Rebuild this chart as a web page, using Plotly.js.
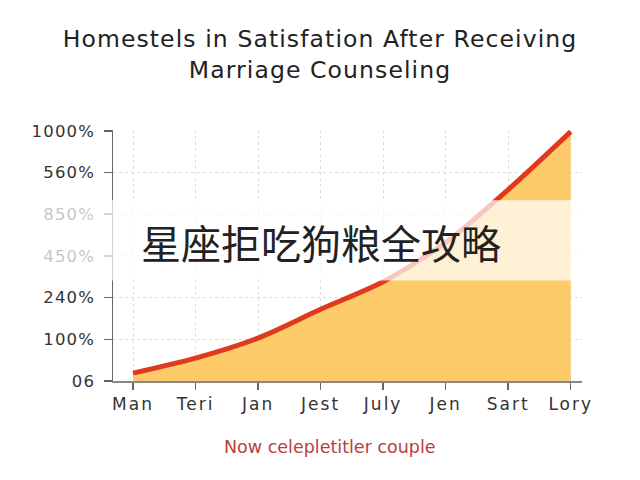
<!DOCTYPE html>
<html>
<head>
<meta charset="utf-8">
<script src="https://cdn.plot.ly/plotly-3.0.1.min.js"></script>
<style>
html,body{margin:0;padding:0;background:#fff;}
#chart{width:640px;height:480px;}
#chart .xtick text{letter-spacing:2px;}
#chart .ytick text{letter-spacing:1.2px;}
#chart .gtitle{letter-spacing:1.1px;}
</style>
</head>
<body>
<div id="chart"></div>
<script>
var categories = ["Man", "Teri", "Jan", "Jest", "July", "Jen", "Sart", "Lory"];
var satisfaction = [0.19, 0.55, 1.03, 1.72, 2.38, 3.32, 4.59, 5.98];
var yTickLabels = ["06", "100%", "240%", "450%", "850%", "560%", "1000%"];
var chartTitle = "Homestels in Satisfation After Receiving<br>Marriage Counseling";
var xTitle = "Now celepletitler couple";
var bannerText = "星座拒吃狗粮全攻略";

var xIdx = categories.map(function (c, i) { return i; });
var yIdx = yTickLabels.map(function (t, i) { return i; });
var FONT = "DejaVu Sans, Verdana, sans-serif";

var trace = {
  x: xIdx,
  y: satisfaction,
  type: "scatter",
  mode: "lines",
  line: { color: "#E0391E", width: 5, shape: "spline", smoothing: 0.8 },
  fill: "tozeroy",
  fillcolor: "#FDCB6A",
  hoverinfo: "skip"
};

var layout = {
  width: 640,
  height: 480,
  margin: { l: 113, r: 58, t: 130, b: 99 },
  paper_bgcolor: "#ffffff",
  plot_bgcolor: "#ffffff",
  showlegend: false,
  font: { family: FONT, color: "#333" },
  title: {
    text: chartTitle,
    x: 0.5,
    xanchor: "center",
    y: 0.902,
    yanchor: "middle",
    font: { size: 23.5, color: "#222", family: FONT }
  },
  xaxis: {
    range: [-0.32, 7.18],
    tickmode: "array",
    tickvals: xIdx,
    ticktext: categories,
    ticks: "outside",
    ticklen: 7,
    tickcolor: "#666",
    tickwidth: 1.5,
    showline: true,
    linecolor: "#888",
    linewidth: 1.5,
    showgrid: true,
    gridcolor: "#dcdcdc",
    griddash: "dot",
    zeroline: false,
    tickfont: { size: 17, color: "#333", family: FONT },
    fixedrange: true
  },
  yaxis: {
    range: [0, 6.02],
    tickmode: "array",
    tickvals: yIdx,
    ticktext: yTickLabels,
    ticks: "outside",
    ticklen: 8,
    ticklabelstandoff: 5,
    tickcolor: "#666",
    tickwidth: 1.5,
    showline: true,
    linecolor: "#666",
    linewidth: 1.5,
    showgrid: true,
    gridcolor: "#dcdcdc",
    griddash: "dot",
    zeroline: false,
    tickfont: { size: 16.5, color: "#333", family: FONT },
    fixedrange: true
  },
  shapes: [
    {
      type: "rect",
      xref: "paper",
      yref: "paper",
      x0: -0.3,
      x1: 1.01,
      y0: 0.4,
      y1: 0.72,
      line: { width: 0 },
      fillcolor: "rgba(255,255,255,0.72)",
      layer: "above"
    }
  ],
  annotations: [
    {
      text: bannerText,
      xref: "paper",
      yref: "paper",
      x: 0.055,
      y: 0.552,
      xanchor: "left",
      yanchor: "middle",
      showarrow: false,
      font: { size: 40, color: "#222", family: "Noto Sans CJK SC, sans-serif" }
    },
    {
      text: xTitle,
      xref: "paper",
      yref: "paper",
      x: 0.463,
      y: -0.262,
      xanchor: "center",
      yanchor: "middle",
      showarrow: false,
      font: { size: 17.5, color: "#B8403F", family: FONT }
    }
  ]
};

Plotly.newPlot("chart", [trace], layout, { displayModeBar: false, staticPlot: true });
</script>
</body>
</html>
